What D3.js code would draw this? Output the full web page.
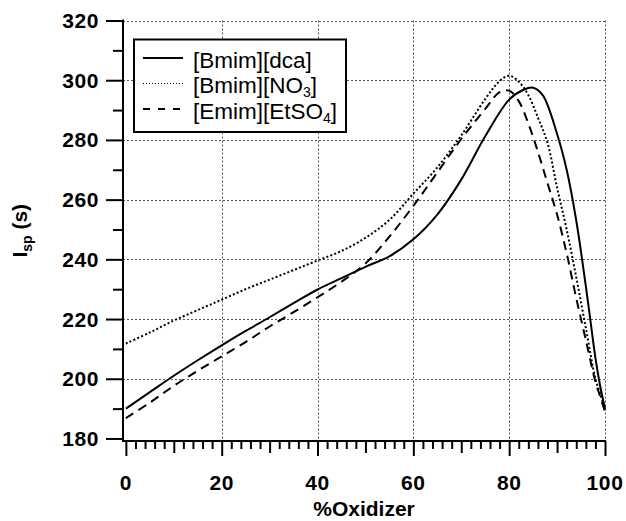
<!DOCTYPE html>
<html>
<head>
<meta charset="utf-8">
<script src="https://cdn.jsdelivr.net/npm/d3@7"></script>
<style>
  body { margin: 0; background: #fff; }
  svg { display: block; font-family: Arial, "Liberation Sans", sans-serif; }
</style>
</head>
<body>
<div id="chart"></div>
<script>
// data
const oxidizerPct = [0, 5, 10, 15, 20, 25, 30, 35, 40, 45, 50, 55, 60, 65, 70, 75, 78, 80, 82, 84, 86, 88, 90, 92, 94, 96, 98, 99, 100];

const bmimDcaX = [0, 5, 10, 15, 20, 25, 30, 35, 40, 45, 50, 55, 60, 65, 70, 75, 80, 83, 85, 87, 90, 92, 94, 96, 97, 98, 99, 100];
const bmimDca = [190, 195.5, 201, 206.2, 211.2, 216, 220.6, 225.3, 229.9, 233.7, 237.5, 241, 246.7, 255, 266.7, 281.2, 293.5, 296.8, 297.5, 295, 282, 270, 253, 231, 219, 207, 197.5, 190];

const bmimNO3 = [211.8, 215.5, 219.5, 223, 226.5, 230, 233.2, 236.4, 239.6, 242.8, 247.2, 253.2, 262, 270.8, 281.5, 293.7, 299.7, 301.5, 299.5, 295, 287.5, 279, 264, 250, 234, 217, 200, 195, 190];

const emimEtSO4 = [186.8, 192, 197.6, 202.7, 207.5, 212.3, 217.5, 222.3, 227.3, 232.5, 238.6, 247.6, 257.9, 269.1, 280.3, 290.4, 296, 296.5, 293, 285.5, 276, 265.5, 255, 242, 227, 213, 199, 194, 189];

const seriesNames = ["[Bmim][dca]", "[Bmim][NO3]", "[Emim][EtSO4]"];

const xTicks = [0, 20, 40, 60, 80, 100];
const yTicks = [180, 200, 220, 240, 260, 280, 300, 320];

const W = 626, H = 521;
const plotL = 123, plotR = 605, plotT = 20.5, plotB = 441;

const svg = d3.select("#chart").append("svg")
  .attr("width", W)
  .attr("height", H);

const x = d3.scaleLinear().domain([-0.6, 100]).range([plotL, plotR]);
const y = d3.scaleLinear().domain([179.15, 320]).range([plotB, plotT]);

// ── grid ──
const grid = svg.append("g")
  .attr("stroke", "#555")
  .attr("stroke-width", 1)
  .attr("stroke-dasharray", "2,2");

grid.selectAll(".gx").data(xTicks.filter((d) => d > 0)).enter()
  .append("line")
  .attr("x1", (d) => Math.round(x(d)) + 0.5)
  .attr("x2", (d) => Math.round(x(d)) + 0.5)
  .attr("y1", plotT)
  .attr("y2", plotB);

grid.selectAll(".gy").data(yTicks.filter((d) => d > 180)).enter()
  .append("line")
  .attr("x1", plotL)
  .attr("x2", plotR)
  .attr("y1", (d) => Math.round(y(d)) + 0.5)
  .attr("y2", (d) => Math.round(y(d)) + 0.5);

// ── axes ──
const xAxis = d3.axisBottom(x)
  .tickValues(d3.range(0, 101, 2))
  .tickSize(0)
  .tickFormat("");
const gx = svg.append("g").attr("transform", `translate(0,${plotB})`).call(xAxis);
gx.select(".domain").remove();
gx.selectAll(".tick line")
  .attr("y2", (d) => (d % 20 === 0 ? 15 : d % 10 === 0 ? 12 : 8))
  .attr("stroke", "#000")
  .attr("stroke-width", 2);

svg.append("g").selectAll("text").data(xTicks).enter()
  .append("text")
  .attr("x", (d) => x(d))
  .attr("y", 490)
  .attr("text-anchor", "middle")
  .attr("font-size", 21)
  .attr("font-weight", "bold")
  .attr("letter-spacing", 0.6)
  .text((d) => d);

const yAxis = d3.axisLeft(y)
  .tickValues(d3.range(180, 321, 10))
  .tickSize(0)
  .tickFormat("");
const gy = svg.append("g").attr("transform", `translate(${plotL},0)`).call(yAxis);
gy.select(".domain").remove();
gy.selectAll(".tick line")
  .attr("x2", (d) => (d % 20 === 0 ? -17 : -10))
  .attr("stroke", "#000")
  .attr("stroke-width", 2);

svg.append("g").selectAll("text").data(yTicks).enter()
  .append("text")
  .attr("x", 99)
  .attr("y", (d) => y(d) + 7.5)
  .attr("text-anchor", "end")
  .attr("font-size", 21)
  .attr("font-weight", "bold")
  .attr("letter-spacing", 0.6)
  .text((d) => d);

svg.append("line")
  .attr("x1", plotL).attr("x2", plotL)
  .attr("y1", plotT - 1).attr("y2", plotB + 1)
  .attr("stroke", "#000").attr("stroke-width", 2);
svg.append("line")
  .attr("x1", plotL - 1).attr("x2", plotR + 1)
  .attr("y1", plotB).attr("y2", plotB)
  .attr("stroke", "#000").attr("stroke-width", 2);

// axis titles
svg.append("text")
  .attr("x", (plotL + plotR) / 2)
  .attr("y", 516)
  .attr("text-anchor", "middle")
  .attr("font-size", 21)
  .attr("font-weight", "bold")
  .text("%Oxidizer");

const yt = svg.append("text")
  .attr("transform", `translate(27,${(plotT + plotB) / 2}) rotate(-90)`)
  .attr("text-anchor", "middle")
  .attr("font-size", 21)
  .attr("font-weight", "bold");
yt.append("tspan").text("I");
yt.append("tspan").attr("font-size", 14).attr("dy", 5).text("sp");
yt.append("tspan").attr("dy", -5).text(" (s)");

// ── curves ──
const line = d3.line()
  .x((d) => x(d[0]))
  .y((d) => y(d[1]))
  .curve(d3.curveCatmullRom.alpha(0.5));

const series = [
  { pts: d3.zip(bmimDcaX, bmimDca), dash: null },
  { pts: d3.zip(oxidizerPct, bmimNO3), dash: "2,2.2" },
  { pts: d3.zip(oxidizerPct, emimEtSO4), dash: "9,6" },
];

svg.append("g").selectAll("path").data(series).enter()
  .append("path")
  .attr("d", (d) => line(d.pts))
  .attr("fill", "none")
  .attr("stroke", "#000")
  .attr("stroke-width", 2)
  .attr("stroke-dasharray", (d) => d.dash);

// ── legend ──
const legend = svg.append("g");
legend.append("rect")
  .attr("x", 134).attr("y", 39.5)
  .attr("width", 212).attr("height", 92.5)
  .attr("fill", "#fff")
  .attr("stroke", "#000")
  .attr("stroke-width", 2);

const legendStyles = [
  { dash: null, w: 2 },
  { dash: "1,2", w: 1.2 },
  { dash: "7,8", w: 2 },
];

seriesNames.forEach((name, i) => {
  const base = 67.5 + i * 25.5;
  legend.append("line")
    .attr("x1", 143).attr("x2", 183)
    .attr("y1", base - 9.5).attr("y2", base - 9.5)
    .attr("stroke", "#000")
    .attr("stroke-width", legendStyles[i].w)
    .attr("stroke-dasharray", legendStyles[i].dash);
  const t = legend.append("text")
    .attr("x", 193)
    .attr("y", base)
    .attr("font-size", 22.5);
  const m = name.match(/^(.*?)(\d)(\]?)$/);
  if (m) {
    t.append("tspan").text(m[1]);
    t.append("tspan").attr("font-size", 14).attr("dy", 4).text(m[2]);
    t.append("tspan").attr("dy", -4).text(m[3]);
  } else {
    t.text(name);
  }
});
</script>
</body>
</html>
